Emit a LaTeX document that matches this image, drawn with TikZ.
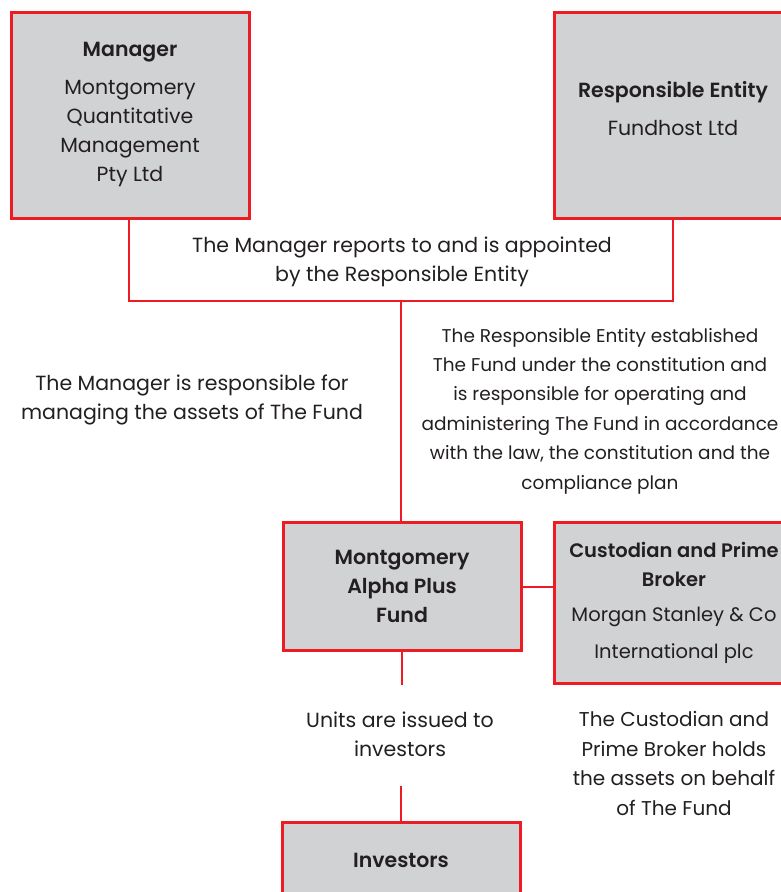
\documentclass[tikz,border=0pt]{standalone}
\usepackage{fontspec}
\setmainfont{Poppins}[BoldFont={Poppins SemiBold}]
\definecolor{fred}{HTML}{ED1C24}
\definecolor{fgray}{HTML}{D1D2D4}
\definecolor{ftext}{HTML}{231F20}
\begin{document}
\begin{tikzpicture}[x=1pt,y=-1pt,
  box/.style={draw=fred,fill=fgray,line width=3pt,minimum width=238pt,inner sep=0pt},
  txt/.style={align=center,text=ftext,font=\fontsize{20.5}{29}\selectfont,inner sep=0pt},
  btxt/.style={txt,font=\fontsize{20.5}{29}\selectfont\bfseries},
  link/.style={draw=fred,line width=2.5pt}]
\useasboundingbox (0,0) rectangle (781,892);
\begin{scope}
\clip (0,0) rectangle (781,892);
% boxes
\node[box,minimum height=206pt] (mgr) at (130,115) {};
\node[box,minimum height=206pt] (re) at (673,115) {};
\node[box,minimum height=128pt] (fund) at (402,586) {};
\node[box,minimum height=161pt] (cust) at (673,602.5) {};
\node[box,minimum height=140pt] (inv) at (401,892) {};
% connectors
\coordinate (j1) at (129,301);
\coordinate (j2) at (673,301);
\coordinate (j3) at (401,301);
\coordinate (u1) at (402,685);
\coordinate (u2) at (401,786);
\draw[link] (mgr.south -| j1) -- (j1) -- (j2) -- (re.south -| j2);
\draw[link] (j3) -- (fund.north -| j3);
\draw[link] (fund.east |- 0,587) -- (cust.west |- 0,587);
\draw[link] (fund.south -| u1) -- (u1);
\draw[link] (u2) -- (inv.north -| u2);
% box texts
\node[btxt] (mgrt) at (130,52) {Manager};
\node[txt] (mgrs) at (130,134) {Montgomery\\Quantitative\\Management\\Pty Ltd};
\node[btxt] (ret) at (673,92) {Responsible Entity};
\node[txt] (res) at (673,128) {Fundhost Ltd};
\node[btxt] (fundt) at (402,586) {Montgomery\\Alpha Plus\\Fund};
\node[btxt,font=\fontsize{19.5}{29}\selectfont\bfseries] (custt) at (674,564) {Custodian and Prime\\Broker};
\node[txt,font=\fontsize{19.5}{37}\selectfont] (custs) at (674,635) {Morgan Stanley \& Co\\International plc};
\node[btxt] (invt) at (401,860) {Investors};
% labels
\node[txt] (l1) at (402,262) {The Manager reports to and is appointed\\by the Responsible Entity};
\node[txt,font=\fontsize{18.5}{29.4}\selectfont] (l2) at (600,411) {The Responsible Entity established\\The Fund under the constitution and\\is responsible for operating and\\administering The Fund in accordance\\with the law, the constitution and the\\compliance plan};
\node[txt] (l3) at (192,399.5) {The Manager is responsible for\\managing the assets of The Fund};
\node[txt] (l4) at (400,734.5) {Units are issued to\\investors};
\node[txt,font=\fontsize{20}{29.5}\selectfont] (l5) at (674,763.5) {The Custodian and\\Prime Broker holds\\the assets on behalf\\of The Fund};
\end{scope}
\end{tikzpicture}
\end{document}
